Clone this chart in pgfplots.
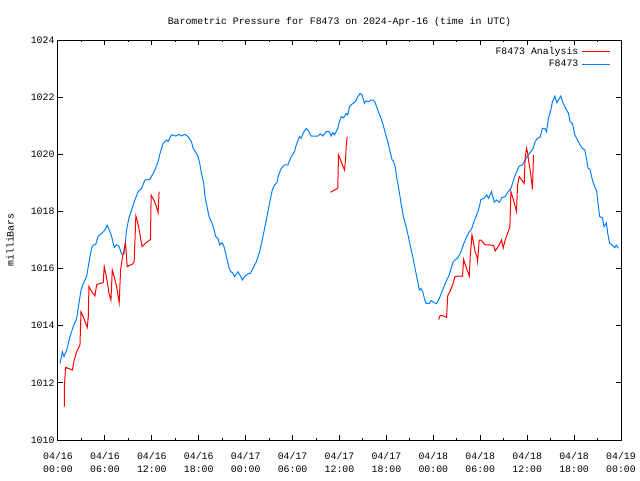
\documentclass[border=0pt]{standalone}
\usepackage{fontspec}
\setmainfont{Liberation Mono}
\usepackage{pgfplots}
\pgfplotsset{compat=1.18}
\definecolor{gpred}{RGB}{255,0,0}
\definecolor{gpblue}{RGB}{0,128,255}
\begin{document}
\fontsize{7.4}{9.5}\selectfont
\begin{tikzpicture}
\useasboundingbox (-43.5pt,-30pt) rectangle (436.5pt,330pt);
\begin{axis}[
  at={(0,0)}, anchor=south west,
  scale only axis, width=422.25pt, height=300pt,
  xmin=0, xmax=72, ymin=1010, ymax=1024,
  xtick={0,6,...,72}, minor xtick={3,9,...,69},
  ytick={1010,1012,...,1024},
  xticklabels={{04/16\\00:00},{04/16\\06:00},{04/16\\12:00},{04/16\\18:00},{04/17\\00:00},{04/17\\06:00},{04/17\\12:00},{04/17\\18:00},{04/18\\00:00},{04/18\\06:00},{04/18\\12:00},{04/18\\18:00},{04/19\\00:00}},
  xticklabel style={align=center, font=\fontsize{7.4}{9.5}\selectfont, yshift=-6.5pt},
  yticklabel style={font=\fontsize{7.4}{9.5}\selectfont},
  /pgf/number format/assume math mode=true,
  /pgf/number format/1000 sep={},
  tick align=inside, major tick length=3.5pt, minor tick length=1.8pt,
  tick style={black, line width=0.75pt},
  axis line style={black, line width=0.75pt},
  title={Barometric Pressure for F8473 on 2024-Apr-16 (time in UTC)},
  title style={at={(axis description cs:0.5,1)}, anchor=center, yshift=7.5pt, font=\fontsize{7.4}{9.5}\selectfont},
  ylabel={milliBars},
  ylabel style={at={(axis description cs:-0.0853,0.5)}, anchor=center, font=\fontsize{7.4}{9.5}\selectfont},
  legend style={draw=none, fill=none, at={(axis description cs:1,1)}, anchor=north east, xshift=-5pt, yshift=-1pt, font=\fontsize{7.4}{9.5}\selectfont, row sep=-0.5pt},
  legend cell align=right, legend plot pos=right, reverse legend,
  legend image code/.code={\draw[mark repeat=2,mark phase=2,#1] plot coordinates {(0pt,0pt) (10.5pt,0pt) (21pt,0pt)};},
  unbounded coords=jump,
]
\addplot[color=gpblue, line width=0.75pt] coordinates {
(0.26,1012.68)(0.55,1013.09)(0.77,1012.92)(1.11,1013.15)(1.53,1013.62)(1.95,1013.97)(2.39,1014.26)(2.68,1014.78)(2.94,1015.25)(3.23,1015.48)(3.66,1015.72)(3.87,1016.07)(4.09,1016.42)(4.30,1016.71)(4.51,1016.83)(4.81,1016.83)(5.14,1017.14)(5.58,1017.23)(6.00,1017.35)(6.29,1017.52)(6.55,1017.35)(6.86,1017.12)(7.19,1016.74)(7.49,1016.83)(7.79,1016.79)(8.13,1016.51)(8.43,1016.51)(8.64,1017.0)(8.77,1017.35)(9.06,1017.76)(9.41,1018.05)(9.83,1018.4)(10.25,1018.69)(10.69,1018.81)(11.11,1019.1)(11.74,1019.12)(12.17,1019.33)(12.47,1019.51)(12.80,1019.74)(13.02,1020.0)(13.44,1020.38)(13.88,1020.5)(14.08,1020.45)(14.52,1020.68)(15.06,1020.64)(15.49,1020.7)(15.79,1020.64)(16.21,1020.7)(16.63,1020.62)(17.07,1020.44)(17.27,1020.21)(17.62,1020.07)(17.91,1019.92)(18.13,1019.68)(18.34,1019.33)(18.64,1018.98)(18.80,1018.52)(19.06,1018.17)(19.31,1017.82)(19.62,1017.64)(19.91,1017.41)(20.17,1017.12)(20.46,1017.06)(20.68,1016.83)(20.97,1016.91)(21.23,1016.77)(21.54,1016.42)(21.83,1016.07)(22.09,1015.89)(22.30,1015.86)(22.60,1015.72)(23.02,1015.89)(23.32,1015.74)(23.58,1015.6)(23.87,1015.72)(24.29,1015.81)(24.60,1015.83)(24.93,1016.01)(25.37,1016.24)(25.79,1016.59)(26.21,1017.12)(26.64,1017.7)(27.06,1018.3)(27.41,1018.75)(27.70,1018.93)(28.00,1019.0)(28.21,1019.28)(28.56,1019.51)(28.98,1019.63)(29.40,1019.63)(29.83,1019.92)(30.26,1020.1)(30.47,1020.33)(30.89,1020.62)(31.11,1020.56)(31.32,1020.73)(31.75,1020.91)(31.95,1020.85)(32.39,1020.64)(32.81,1020.64)(33.23,1020.64)(33.54,1020.71)(33.87,1020.64)(34.30,1020.79)(34.72,1020.79)(34.94,1020.64)(35.15,1020.76)(35.36,1020.68)(35.78,1020.91)(36.0,1021.15)(36.22,1021.32)(36.51,1021.27)(36.86,1021.43)(37.06,1021.38)(37.28,1021.67)(37.70,1021.78)(38.04,1021.84)(38.34,1022.02)(38.64,1022.13)(38.90,1022.08)(39.19,1021.78)(39.41,1021.87)(39.70,1021.84)(40.05,1021.9)(40.34,1021.9)(40.60,1021.78)(40.89,1021.55)(41.23,1021.32)(41.53,1021.08)(41.87,1020.73)(42.17,1020.44)(42.47,1020.1)(42.73,1019.8)(42.89,1019.77)(43.11,1019.57)(43.37,1019.1)(43.66,1018.66)(43.87,1018.28)(44.17,1017.82)(44.51,1017.47)(44.72,1017.23)(45.03,1016.83)(45.36,1016.42)(45.66,1016.01)(45.92,1015.66)(46.21,1015.25)(46.43,1015.3)(46.64,1015.19)(46.85,1014.96)(47.07,1014.78)(47.49,1014.78)(47.71,1014.88)(48.13,1014.8)(48.42,1014.78)(48.77,1014.96)(49.19,1015.25)(49.62,1015.54)(50.04,1015.78)(50.34,1016.07)(50.55,1016.24)(50.81,1016.31)(51.10,1016.36)(51.54,1016.59)(51.83,1016.83)(52.17,1017.06)(52.60,1017.29)(52.89,1017.38)(53.11,1017.58)(53.45,1017.82)(53.78,1018.05)(54.09,1018.42)(54.51,1018.46)(54.81,1018.58)(55.06,1018.46)(55.44,1018.69)(55.79,1018.32)(56.08,1018.4)(56.43,1018.32)(56.77,1018.48)(57.19,1018.52)(57.49,1018.66)(57.92,1018.81)(58.34,1019.16)(58.64,1019.39)(58.98,1019.59)(59.40,1019.63)(59.74,1019.8)(60.04,1019.94)(60.47,1020.09)(60.77,1020.21)(61.02,1020.44)(61.32,1020.56)(61.66,1020.6)(61.95,1020.91)(62.26,1020.91)(62.47,1020.79)(62.72,1021.26)(63.03,1021.55)(63.23,1021.84)(63.54,1022.04)(63.79,1021.81)(64.0,1021.9)(64.30,1022.04)(64.60,1021.78)(64.94,1021.6)(65.28,1021.43)(65.49,1021.14)(65.79,1021.08)(66.09,1020.68)(66.43,1020.5)(66.77,1020.33)(67.06,1020.21)(67.37,1020.15)(67.62,1019.8)(67.79,1019.51)(68.04,1019.48)(68.34,1019.1)(68.64,1018.87)(68.90,1018.69)(69.06,1018.28)(69.28,1017.82)(69.62,1017.78)(69.83,1017.47)(70.12,1017.6)(70.34,1017.18)(70.56,1016.88)(70.89,1016.82)(71.20,1016.73)(71.40,1016.82)(71.66,1016.71)
};
\addlegendentry{F8473}
\addplot[color=gpred, line width=0.75pt] coordinates {
(0.80,1011.17)(0.81,1011.87)(0.98,1012.54)(1.40,1012.5)(1.83,1012.45)(2.08,1012.8)(2.39,1013.09)(2.81,1013.33)(2.94,1014.49)(3.23,1014.31)(3.74,1013.94)(3.87,1014.31)(3.96,1015.37)(4.30,1015.2)(4.72,1015.04)(4.94,1015.43)(5.36,1015.48)(5.78,1015.5)(5.91,1016.07)(6.09,1015.84)(6.34,1015.48)(6.51,1015.14)(6.77,1014.9)(6.86,1015.43)(6.94,1015.95)(7.19,1015.72)(7.49,1015.37)(7.70,1015.02)(7.83,1014.81)(8.00,1015.95)(8.26,1016.42)(8.64,1016.88)(8.85,1016.07)(9.06,1016.1)(9.54,1016.16)(9.74,1016.24)(9.96,1017.84)(10.12,1017.7)(10.47,1017.23)(10.60,1017.0)(10.76,1016.77)(11.32,1016.92)(11.83,1017.02)(11.91,1018.57)(12.26,1018.4)(12.51,1018.23)(12.80,1017.96)(12.93,1018.69)
(13.5,nan)
(34.85,1018.67)(35.36,1018.75)(35.78,1018.81)(35.87,1019.98)(36.22,1019.74)(36.64,1019.45)(36.77,1019.8)(36.86,1020.29)(36.98,1020.62)
(40,nan)
(48.68,1014.22)(48.86,1014.35)(49.19,1014.35)(49.70,1014.29)(49.83,1015.04)(50.13,1015.2)(50.47,1015.43)(50.77,1015.72)(51.32,1015.74)(51.74,1015.74)(51.87,1016.32)(52.17,1016.07)(52.60,1015.74)(52.72,1016.42)(52.94,1017.18)(53.11,1016.95)(53.32,1016.6)(53.58,1016.42)(53.66,1016.25)(53.87,1017.0)(54.09,1017.0)(54.64,1016.83)(55.15,1016.83)(55.70,1016.81)(55.92,1016.62)(56.43,1016.83)(56.72,1017.0)(56.94,1016.72)(57.19,1017.0)(57.49,1017.23)(57.79,1017.47)(57.92,1018.69)(58.12,1018.52)(58.47,1018.17)(58.64,1017.99)(58.77,1018.93)(58.98,1019.22)(59.32,1019.1)(59.62,1018.98)(59.74,1019.86)(59.91,1020.21)(60.04,1020.09)(60.17,1019.8)(60.38,1019.45)(60.55,1019.1)(60.68,1018.77)(60.81,1019.98)
};
\addlegendentry{F8473 Analysis}
\end{axis}
\end{tikzpicture}
\end{document}
